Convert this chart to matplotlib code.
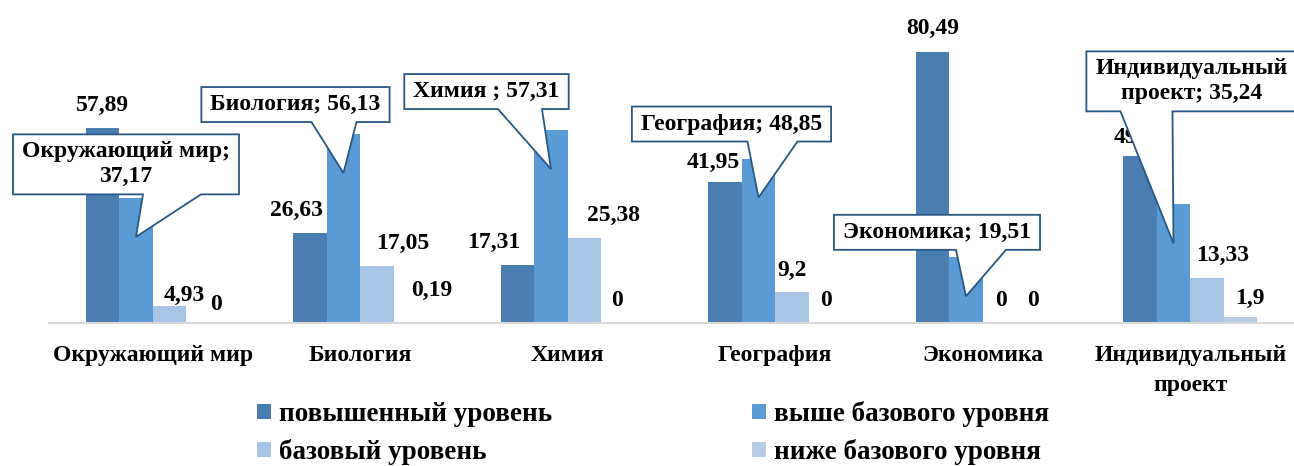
import matplotlib
matplotlib.use('Agg')
import matplotlib.pyplot as plt
from matplotlib.patches import Polygon, Patch
from matplotlib.transforms import IdentityTransform
import numpy as np

# ---------------- data ----------------
categories = ['Окружающий мир', 'Биология', 'Химия', 'География', 'Экономика',
              'Индивидуальный\nпроект']
callout_names = ['Окружающий мир;\n', 'Биология; ', 'Химия ; ', 'География; ',
                 'Экономика; ', 'Индивидуальный\nпроект; ']
series_names = ['повышенный уровень', 'выше базового уровня', 'базовый уровень',
                'ниже базового уровня']
advanced = [57.89, 26.63, 17.31, 41.95, 80.49, 49.53]
above_basic = [37.17, 56.13, 57.31, 48.85, 19.51, 35.24]
basic = [4.93, 17.05, 25.38, 9.2, 0, 13.33]
below_basic = [0, 0.19, 0, 0, 0, 1.9]

# ---------------- style ----------------
FONT = 'Liberation Serif'
plt.rcParams['font.family'] = [FONT, 'DejaVu Serif']
plt.rcParams['font.weight'] = 'bold'
colors = ['#4A7EB1', '#5B9BD5', '#A9C5E6', '#B8CCE4']
LBL = 17
edge_col = '#2A5783'

# label offsets (pixels) for series 1, 3, 4 (dx, dy from bar top centre)
off_s1 = [(0, 23), (-14, 23), (-24, 22), (-12, 19), (0, 24), (0, 19)]
off_s3 = [(15, 11), (26, 22), (29, 22), (0, 22), (1, 23), (16, 23)]
off_s4 = [(13, 18), (21, 32), (-1, 23), (0, 23), (0, 23), (9, 18)]
# callout text centre offsets relative to pointer tip, and pointer base
call_off = [(-10, 72.5), (-48, 68.5), (-64.5, 77.5), (-27, 73.5), (-29, 64), (18, 162)]
call_base = [(7, 65), (-32, 13), (-53, -9), (-11, 39), (-10, 40), (-53, -1)]

def fmt(v):
    return ('%g' % v).replace('.', ',')

fig = plt.figure(figsize=(12.94, 4.66), dpi=100)
ax = fig.add_axes([49 / 1294, 143 / 466, 1245 / 1294, 303 / 466])

x = np.arange(len(categories))
w = 0.1616
all_series = [advanced, above_basic, basic, below_basic]
for j, (vals, col) in enumerate(zip(all_series, colors)):
    ax.bar(x + (j - 1.5) * w, vals, width=w, color=col, zorder=2)

ax.set_xlim(-0.5, 5.5)
ax.set_ylim(0, 90)
for s in ['top', 'left', 'right']:
    ax.spines[s].set_visible(False)
ax.spines['bottom'].set_color('#D9D9D9')
ax.spines['bottom'].set_linewidth(1.5)
ax.set_yticks([])
ax.set_xticks(x)
ax.set_xticklabels(categories, fontweight='bold', fontsize=LBL, linespacing=1.55)
ax.tick_params(axis='x', length=0, pad=16)

for vals, offs, j in [(advanced, off_s1, 0), (basic, off_s3, 2), (below_basic, off_s4, 3)]:
    for i, v in enumerate(vals):
        ax.annotate(fmt(v), (x[i] + (j - 1.5) * w, v), xytext=offs[i],
                    textcoords='offset pixels', ha='center', va='center',
                    fontweight='bold', fontsize=LBL, zorder=3)

# legend
handles = [Patch(facecolor=c, edgecolor='none') for c in colors]
order = [0, 2, 1, 3]
fig.legend([handles[k] for k in order], [series_names[k] for k in order],
           ncol=2, loc='upper left', bbox_to_anchor=(257 / 1294, 1 - 401 / 466),
           frameon=False, prop={'family': FONT, 'weight': 'bold', 'size': 19.5},
           handlelength=0.5, handleheight=0.5, handletextpad=0.3,
           columnspacing=7.4, labelspacing=0.45, borderpad=0, borderaxespad=0)

# callouts
fig.canvas.draw()
renderer = fig.canvas.get_renderer()
idt = IdentityTransform()
for i in range(len(categories)):
    tx, ty = ax.transData.transform((x[i] - 0.5 * w, above_basic[i]))
    ty -= 39
    dx, dy = call_off[i]
    t = fig.text(tx + dx, ty + dy, callout_names[i] + fmt(above_basic[i]),
                 transform=idt, ha='center', va='center', multialignment='center',
                 fontweight='bold', fontsize=LBL, zorder=7, linespacing=1.25)
    bb = t.get_window_extent(renderer)
    l, r = bb.x0 - 9, bb.x1 + 9
    bt, tp = bb.y0 - 7, bb.y1 + 7
    b0, b1 = call_base[i]
    pts = [(l, bt), (tx + b0, bt), (tx, ty), (tx + b1, bt), (r, bt), (r, tp), (l, tp)]
    poly = Polygon(pts, closed=True, transform=idt, facecolor='white',
                   edgecolor=edge_col, linewidth=1.3, zorder=6)
    fig.add_artist(poly)

fig.savefig('out.png', dpi=100)
